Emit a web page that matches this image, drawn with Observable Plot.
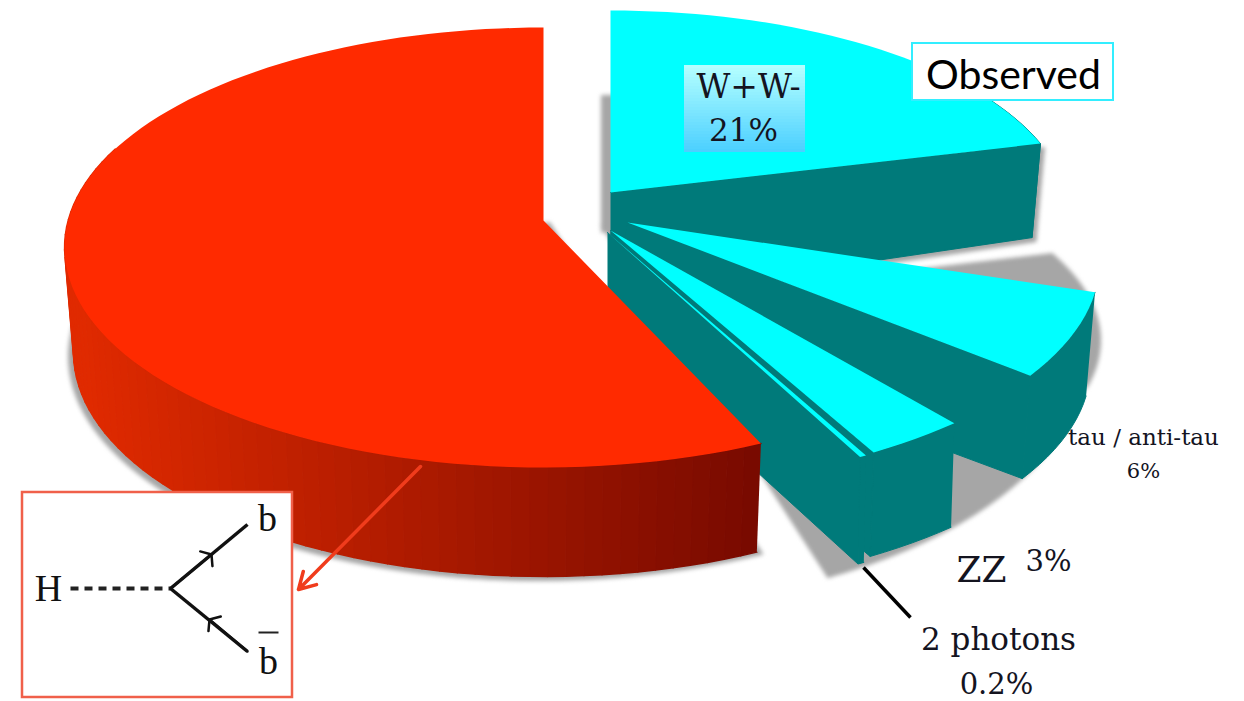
<!DOCTYPE html>
<html>
<head>
<meta charset="utf-8">
<script src="https://cdn.jsdelivr.net/npm/d3@7"></script>
<script src="https://cdn.jsdelivr.net/npm/@observablehq/plot@0.6"></script>
<style>
  html, body { margin: 0; padding: 0; background: #fff; overflow: hidden; }
  svg { display: block; }
</style>
</head>
<body>
<div id="chart"></div>
<script>
// Higgs decay channels in clockwise order from twelve o'clock; share in percent.
const channels = ["WW", "gg", "tautau", "cc", "ZZ", "Zgamma", "gammagamma", "other", "bb"];
const shares = [21, 9, 6, 3, 3, 0.2, 0.2, 0.9, 56.7];
const observed = [true, false, true, false, true, false, true, false, true];

// Placement of each wedge: top face ellipse, base ellipse and apex of both.
const wedgeFrames = {
  WW: {top: {ax: 610, ay: 192, cx: 610, cy: 213, rx: 458, ry: 203}, base: {ax: 610, ay: 299, cx: 610, cy: 306, rx: 449, ry: 200}},
  tautau: {top: {ax: 627, ay: 222, cx: 627, cy: 262, rx: 472, ry: 217}, base: {ax: 610, ay: 325, cx: 625, cy: 366, rx: 465, ry: 215}},
  ZZ: {top: {ax: 610, ay: 230, cx: 610, cy: 257, rx: 496, ry: 230}, base: {ax: 607, ay: 335, cx: 606, cy: 361, rx: 497, ry: 230}},
  gammagamma: {top: {ax: 607, ay: 232, cx: 607, cy: 258, rx: 500, ry: 230}, base: {ax: 607, ay: 335, cx: 610, cy: 365, rx: 490, ry: 230}},
  bb: {top: {ax: 543, ay: 220, cx: 543, cy: 247, rx: 479, ry: 220}, base: {ax: 540, ay: 325, cx: 543, cy: 352, rx: 470, ry: 224}}
};

const CYAN = "#00ffff", TEAL = "#007a7a", RED = "#ff2a00", GREY = "#a6a6a6";
const redShade = d3.interpolateRgb("#e02a00", "#780a00");

// Where a ray from the apex at angle phi meets the ellipse.
function rimUnit(f, phi) {
  const a = (f.ax - f.cx) / f.rx, b = (f.cy - f.ay) / f.ry;
  const r = phi * Math.PI / 180, sx = Math.sin(r), sy = Math.cos(r);
  const pd = a * sx + b * sy;
  const k = -pd + Math.sqrt(pd * pd - (a * a + b * b - 1));
  return [a + k * sx, b + k * sy];
}
const onEllipse = (f, u) => [f.cx + f.rx * u[0], f.cy - f.ry * u[1]];
const rimPoint = (f, phi) => onEllipse(f, rimUnit(f, phi));
const angles = (a0, a1, step = 2) => {
  const n = Math.max(1, Math.ceil(Math.abs(a1 - a0) / step));
  return d3.range(n + 1).map(i => a0 + (a1 - a0) * i / n);
};

// Three painted layers: flat wedges, the shaded outer wall, the large wedge's top.
const flatRows = [], wallRows = [], bbCapRows = [];
let polygonId = 0;
function addPolygon(rows, points, color, edge = "none") {
  const shape = polygonId++;
  for (const [x, y] of points) rows.push({shape, x, y, color, edge});
}
function capPoints(f, a0, a1) {
  return [[f.ax, f.ay], ...angles(a0, a1).map(p => rimPoint(f, p))];
}
function wallBand(frame, a0, a1) {
  const us = angles(a0, a1).map(p => rimUnit(frame.top, p));
  return [...us.map(u => onEllipse(frame.top, u)), ...us.reverse().map(u => onEllipse(frame.base, u))];
}
function addFlatWedge(frame, a0, a1) {
  const {top, base} = frame;
  addPolygon(flatRows, wallBand(frame, Math.max(a0, 60), a1), TEAL, TEAL);
  const u = rimUnit(top, a1);
  addPolygon(flatRows, [[top.ax, top.ay], onEllipse(top, u), onEllipse(base, u), [base.ax, base.ay]], TEAL, TEAL);
  addPolygon(flatRows, capPoints(top, a0, a1), CYAN);
}

// Angular span of each channel.
let running = 0;
const spans = {};
channels.forEach((c, i) => {
  spans[c] = [running * 3.6, (running + shares[i]) * 3.6];
  running += shares[i];
});

// Painted from the back of the pie to the front.
channels.forEach((c, i) => {
  if (observed[i] && c !== "bb") addFlatWedge(wedgeFrames[c], spans[c][0], spans[c][1]);
});
{
  const frame = wedgeFrames.bb;
  const sweep = angles(spans.bb[0], 290);
  for (let i = 0; i + 1 < sweep.length; ++i) {
    const q = wallBand(frame, sweep[i], sweep[i + 1]);
    const midX = (q[0][0] + q[1][0]) / 2;
    addPolygon(wallRows, q, redShade(Math.max(0, Math.min(1, (midX - 80) / 680))));
  }
  addPolygon(bbCapRows, capPoints(frame.top, spans.bb[0], spans.bb[1]), RED);
}

// Cast shadows, kept in their own blurred layer.
const shadowRows = [];
let shadowId = 0;
function addShadow(points) {
  const shape = shadowId++;
  for (const [x, y] of points) shadowRows.push({shape, x, y});
}
const ww = wedgeFrames.WW;
addShadow(capPoints({ax: 601, ay: 232, cx: 601, cy: 250, rx: 440, ry: 155}, 0, 75));
{
  const u = rimUnit(ww.top, spans.WW[1]);
  addShadow([[ww.top.ax, ww.top.ay], onEllipse(ww.top, u), onEllipse(ww.base, u), [ww.base.ax, ww.base.ay]]
    .map(([x, y]) => [x + 4, y + 4]));
}
addShadow(capPoints({ax: 610, ay: 305, cx: 610, cy: 340, rx: 490, ry: 201}, 74, 113));
addShadow(capPoints({ax: 600, ay: 225, cx: 600, cy: 345, rx: 490, ry: 262}, 122, 161));
{
  // Soft edges around the large wedge's outer wall.
  const bb = wedgeFrames.bb;
  const outline = angles(spans.bb[0], 290).map(p => onEllipse(bb.base, rimUnit(bb.top, p)));
  addShadow([[bb.top.ax, bb.top.ay], ...outline].map(([x, y]) => [x - 5, y + 4]));
  addShadow([[bb.top.ax, bb.top.ay], ...outline].map(([x, y]) => [x + 6, y + 2]));
}

// Label panel behind "W+W-".
const panelBands = d3.range(29).map(i => ({
  y1: 65 + i * 3, y2: 65 + (i + 1) * 3,
  color: d3.interpolateRgb("#b4ffff", "#4cd0ff")(i / 28)
}));

// Inset decay diagram.
const dashed = [{x1: 70, y1: 588, x2: 170, y2: 588}];
const fermions = [
  {x1: 170, y1: 588, x2: 247, y2: 524},
  {x1: 170, y1: 588, x2: 247, y2: 651}
];
const fermionArrows = [
  {x1: 170, y1: 588, x2: 211, y2: 554},
  {x1: 247, y1: 651, x2: 209, y2: 619}
];

const labelRows = [
  {text: "W+W-", x: 748, y: 87, size: 33},
  {text: "21%", x: 743, y: 131, size: 31},
  {text: "tau / anti-tau", x: 1143, y: 437, size: 23},
  {text: "6%", x: 1143, y: 471, size: 21},
  {text: "ZZ", x: 981, y: 570, size: 36},
  {text: "3%", x: 1048, y: 561, size: 29},
  {text: "2 photons", x: 998, y: 640, size: 31},
  {text: "0.2%", x: 996, y: 684, size: 29}
];
const diagramLabels = [
  {text: "H", x: 48, y: 588, size: 38},
  {text: "b", x: 267, y: 518, size: 38},
  {text: "b", x: 268, y: 661, size: 38}
];

const chart = Plot.plot({
  width: 1244,
  height: 701,
  margin: 0,
  x: {domain: [0, 1244], range: [0, 1244], axis: null},
  y: {domain: [0, 701], range: [0, 701], axis: null},
  color: {type: "identity"},
  style: {background: "#fff"},
  marks: [
    Plot.line(shadowRows, {x: "x", y: "y", z: "shape", fill: GREY, stroke: GREY, strokeWidth: 1, imageFilter: "blur(2px)"}),
    Plot.line(flatRows, {x: "x", y: "y", z: "shape", fill: "color", stroke: "edge", strokeWidth: 1}),
    Plot.line(wallRows, {x: "x", y: "y", z: "shape", fill: "color", stroke: "color", strokeWidth: 1.4}),
    Plot.line(bbCapRows, {x: "x", y: "y", z: "shape", fill: "color", stroke: "none"}),
    // W+W- panel
    Plot.rect(panelBands, {x1: 684, x2: 805, y1: "y1", y2: "y2", fill: "color"}),
    // "Observed" box
    Plot.rect([0], {x1: 912, x2: 1113, y1: 43, y2: 100, fill: "#fff", stroke: "#33eeff", strokeWidth: 2}),
    Plot.text(["Observed"], {x: 1013, y: 75, text: d => d, fontFamily: "Lato", fontSize: 41, fill: "#000"}),
    // Diagram panel and the pointer running into it
    Plot.rect([0], {x1: 22, x2: 292, y1: 492, y2: 697, fill: "#fff", stroke: "#f0604a", strokeWidth: 2.5}),
    Plot.arrow([0], {x1: 420, y1: 466, x2: 298, y2: 589, stroke: "#f03c1c", strokeWidth: 3.5, headLength: 8, headAngle: 60}),
    Plot.link(dashed, {x1: "x1", y1: "y1", x2: "x2", y2: "y2", stroke: "#222", strokeWidth: 4, strokeDasharray: "8 6"}),
    Plot.link(fermions, {x1: "x1", y1: "y1", x2: "x2", y2: "y2", stroke: "#111", strokeWidth: 3.5}),
    Plot.arrow(fermionArrows, {x1: "x1", y1: "y1", x2: "x2", y2: "y2", stroke: "#111", strokeWidth: 2.5, headLength: 7, headAngle: 110}),
    Plot.link([0], {x1: 258, x2: 278, y1: 632, y2: 632, stroke: "#222", strokeWidth: 2}),
    Plot.text(diagramLabels, {x: "x", y: "y", text: "text", fontSize: "size", fontFamily: "Liberation Serif", fill: "#111"}),
    // Pointer to the diphoton wedge
    Plot.link([0], {x1: 863, y1: 567, x2: 910, y2: 617, stroke: "#000", strokeWidth: 3.5}),
    Plot.text(labelRows, {x: "x", y: "y", text: "text", fontSize: "size", fontFamily: "DejaVu Serif", fill: "#14141f"})
  ]
});
document.getElementById("chart").appendChild(chart);
</script>
</body>
</html>
